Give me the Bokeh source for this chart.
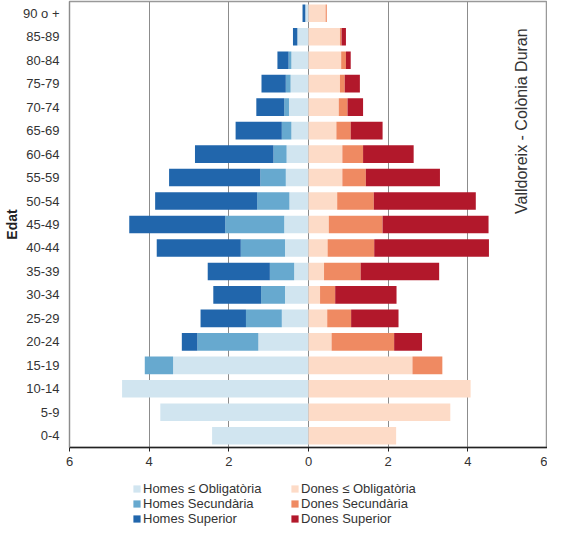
import math
from bokeh.plotting import figure
from bokeh.layouts import column
from bokeh.models import (ColumnDataSource, FactorRange, Range1d, FixedTicker,
                          Legend, LegendItem)
from bokeh.core.properties import value
from bokeh.embed import file_html
from bokeh.resources import INLINE

ages = ["0-4", "5-9", "10-14", "15-19", "20-24", "25-29", "30-34", "35-39",
        "40-44", "45-49", "50-54", "55-59", "60-64", "65-69", "70-74", "75-79",
        "80-84", "85-89", "90 o +"]

homes_obl = [2.42, 3.72, 4.68, 3.40, 1.26, 0.67, 0.59, 0.36, 0.59, 0.61,
             0.48, 0.57, 0.55, 0.43, 0.49, 0.45, 0.43, 0.28, 0.08]
homes_sec = [0.00, 0.00, 0.00, 0.71, 1.53, 0.90, 0.60, 0.61, 1.11, 1.48,
             0.81, 0.64, 0.33, 0.24, 0.12, 0.12, 0.07, 0.00, 0.00]
homes_sup = [0.00, 0.00, 0.00, 0.00, 0.39, 1.14, 1.20, 1.56, 2.11, 2.41,
             2.56, 2.29, 1.97, 1.16, 0.70, 0.61, 0.28, 0.11, 0.07]

dones_obl = [2.20, 3.56, 4.07, 2.61, 0.58, 0.47, 0.29, 0.39, 0.48, 0.51,
             0.72, 0.85, 0.85, 0.70, 0.76, 0.79, 0.82, 0.79, 0.43]
dones_sec = [0.00, 0.00, 0.00, 0.75, 1.57, 0.60, 0.38, 0.92, 1.17, 1.35,
             0.92, 0.59, 0.52, 0.36, 0.22, 0.12, 0.12, 0.04, 0.03]
dones_sup = [0.00, 0.00, 0.00, 0.00, 0.70, 1.19, 1.54, 1.97, 2.88, 2.66,
             2.56, 1.86, 1.27, 0.80, 0.39, 0.38, 0.12, 0.11, 0.00]

x_ticks = [-6, -4, -2, 0, 2, 4, 6]
legend_labels = ["Homes ≤ Obligatòria", "Homes Secundària", "Homes Superior",
                 "Dones ≤ Obligatòria", "Dones Secundària", "Dones Superior"]
colors_h = ["#d1e5f0", "#67a9cf", "#2166ac"]
colors_d = ["#fddbc7", "#ef8a62", "#b2182b"]
title_text = "Valldoreix - Colònia Duran"

src = ColumnDataSource(dict(
    age=ages,
    h_obl=[-v for v in homes_obl],
    h_sec=[-v for v in homes_sec],
    h_sup=[-v for v in homes_sup],
    d_obl=dones_obl, d_sec=dones_sec, d_sup=dones_sup,
))
h_cols = ["h_obl", "h_sec", "h_sup"]
d_cols = ["d_obl", "d_sec", "d_sup"]

FONT = "Liberation Sans"
TXT = "#333333"

p = figure(width=547, height=473, output_backend="svg", toolbar_location=None,
           y_range=FactorRange(*ages), x_range=Range1d(-6, 6),
           min_border_left=68, min_border_right=0, min_border_top=1,
           min_border_bottom=26)

r_h = p.hbar_stack(h_cols, y="age", height=0.75, color=colors_h, line_width=0, source=src)
r_d = p.hbar_stack(d_cols, y="age", height=0.75, color=colors_d, line_width=0, source=src)

p.xaxis.ticker = FixedTicker(ticks=x_ticks)
p.xaxis.major_label_overrides = {t: str(abs(t)) for t in x_ticks}
p.xaxis.major_label_text_font = FONT
p.xaxis.major_label_text_font_size = "13px"
p.xaxis.major_label_text_color = TXT
p.xaxis.axis_line_color = "#222222"
p.xaxis.axis_line_width = 1.5
p.xaxis.major_tick_line_color = "#222222"
p.xaxis.major_tick_out = 4
p.xaxis.major_tick_in = 0
p.xaxis.minor_tick_line_color = None
p.xaxis.major_label_standoff = 5

p.yaxis.axis_label = "Edat"
p.yaxis.axis_label_text_font = FONT
p.yaxis.axis_label_text_font_style = "bold"
p.yaxis.axis_label_text_font_size = "14px"
p.yaxis.axis_label_text_color = "#222222"
p.yaxis.axis_label_standoff = 0
p.yaxis.major_label_text_font = FONT
p.yaxis.major_label_text_font_size = "13px"
p.yaxis.major_label_text_color = TXT
p.yaxis.major_tick_line_color = None
p.yaxis.major_tick_out = 0
p.yaxis.major_label_standoff = 10
p.yaxis.axis_line_color = "#8c8c8c"

p.xgrid.ticker = FixedTicker(ticks=x_ticks)
p.xgrid.grid_line_color = "#8c8c8c"
p.xgrid.grid_line_width = 1
p.ygrid.visible = False
p.outline_line_color = "#999999"
p.outline_line_width = 1.5

p.text(x=[5.35], y=["70-74"], text=[title_text], angle=math.pi / 2, y_offset=14,
       text_align="center", text_baseline="middle",
       text_font=value(FONT), text_font_size="16px", text_color=TXT)

# legend strip below the chart (hidden copies of the bars supply the swatches)
pl = figure(width=547, height=53, output_backend="svg", toolbar_location=None,
            x_range=Range1d(-6, 6), y_range=FactorRange(*ages),
            x_axis_type=None, y_axis_type=None, min_border=0)
pl.grid.visible = False
pl.outline_line_color = None
lh = pl.hbar_stack(h_cols, y="age", height=0.75, color=colors_h, line_width=0,
                   source=src, visible=False)
ld = pl.hbar_stack(d_cols, y="age", height=0.75, color=colors_d, line_width=0,
                   source=src, visible=False)
items = [LegendItem(label=lab, renderers=[r]) for lab, r in zip(legend_labels, lh + ld)]
legend = Legend(items=items, location=(63, 0), orientation="vertical", nrows=3,
                label_text_font=FONT, label_text_font_size="13px",
                label_text_color=TXT, glyph_width=9, glyph_height=9,
                label_standoff=2, spacing=0, padding=0, margin=0,
                label_height=14, label_width=147, border_line_color=None,
                background_fill_alpha=0)
pl.add_layout(legend)

layout = column(p, pl, spacing=0)
open("out.html", "w").write(file_html(layout, INLINE))
